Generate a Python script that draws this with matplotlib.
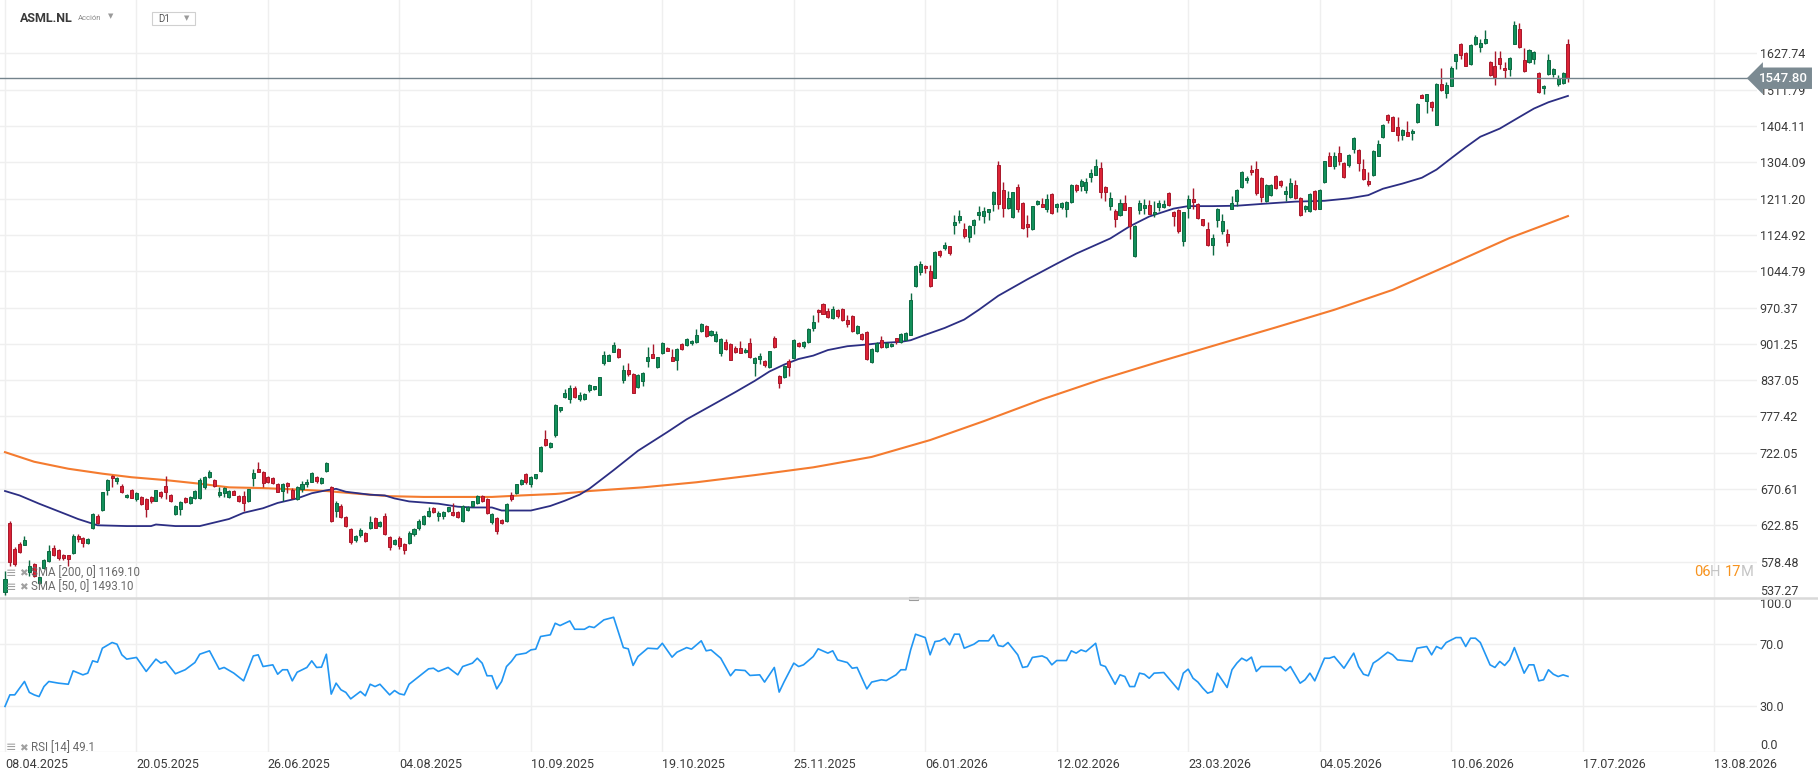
import numpy as np
import matplotlib
matplotlib.use("Agg")
import matplotlib.pyplot as plt
from matplotlib.patches import Rectangle
from matplotlib.lines import Line2D
from matplotlib.transforms import blended_transform_factory

plt.rcParams['font.family'] = ['Roboto', 'DejaVu Sans']

# ---- daily candles ASML.NL (bar index 0 = 08.04.2025) ----
opens = [544, 626, 594, 600, 599, 566, 576, 554, 571, 579, 595, 592, 587, 586, 589, 610, 607, 601, 619, 635,
         643, 669, 689, 682, 675, 660, 669, 657, 660, 657, 660, 655, 666, 675, 662, 638, 644, 659, 652, 658,
         658, 673, 687, 683, 663, 665, 660, 668, 661, 661, 654, 686, 699, 694, 687, 686, 677, 668, 679, 670,
         657, 671, 677, 681, 687, 679, 696, 673, 642, 648, 633, 618, 604, 611, 613, 620, 632, 622, 635, 608,
         600, 607, 600, 601, 612, 619, 624, 635, 645, 635, 635, 641, 640, 640, 628, 643, 648, 652, 661, 657,
         627, 632, 630, 628, 662, 665, 677, 691, 678, 686, 696, 743, 731, 748, 787, 809, 806, 824, 806, 806,
         820, 822, 813, 866, 871, 887, 892, 838, 854, 848, 825, 835, 870, 883, 860, 884, 893, 877, 873, 901,
         900, 902, 905, 925, 935, 917, 907, 885, 904, 901, 893, 893, 886, 903, 867, 874, 871, 860, 912, 844,
         842, 870, 876, 903, 898, 904, 931, 966, 978, 963, 950, 966, 968, 947, 954, 922, 919, 923, 869, 888,
         909, 895, 897, 912, 905, 909, 918, 1015, 1044, 1057, 1045, 1031, 1088, 1096, 1099, 1149, 1159, 1139, 1120, 1147,
         1172, 1169, 1179, 1197, 1297, 1233, 1189, 1167, 1241, 1201, 1151, 1139, 1198, 1198, 1187, 1223, 1192, 1192, 1187, 1202,
         1246, 1244, 1234, 1266, 1272, 1290, 1240, 1193, 1182, 1172, 1200, 1190, 1078, 1184, 1189, 1196, 1174, 1190, 1190, 1225,
         1179, 1184, 1112, 1188, 1210, 1198, 1161, 1139, 1103, 1159, 1135, 1127, 1187, 1206, 1240, 1257, 1284, 1287, 1264, 1206,
         1221, 1268, 1255, 1224, 1216, 1246, 1213, 1186, 1181, 1230, 1186, 1253, 1320, 1295, 1330, 1302, 1297, 1339, 1338, 1287,
         1256, 1270, 1322, 1373, 1437, 1430, 1402, 1380, 1388, 1384, 1415, 1496, 1479, 1474, 1408, 1530, 1503, 1525, 1602, 1661,
         1631, 1592, 1659, 1650, 1663, 1599, 1587, 1614, 1581, 1578, 1661, 1712, 1607, 1599, 1608, 1564, 1516, 1560, 1560, 1531,
         1532, 1659]
highs = [568, 629, 596, 602, 610, 580, 577, 562, 582, 598, 598, 594, 588, 587, 612, 612, 608, 607, 639, 638,
         667, 685, 690, 687, 677, 664, 671, 666, 661, 659, 661, 670, 668, 689, 664, 649, 654, 660, 661, 669,
         686, 689, 697, 685, 673, 673, 669, 669, 662, 668, 671, 699, 709, 696, 689, 688, 679, 679, 681, 672,
         675, 682, 684, 694, 689, 688, 708, 675, 654, 650, 635, 620, 611, 620, 615, 635, 634, 628, 639, 610,
         606, 609, 601, 616, 620, 631, 636, 647, 647, 642, 641, 647, 652, 641, 649, 648, 655, 662, 662, 658,
         639, 633, 631, 652, 666, 678, 685, 693, 689, 692, 732, 757, 738, 797, 793, 822, 829, 827, 817, 816,
         831, 828, 843, 889, 883, 905, 894, 864, 866, 850, 847, 851, 895, 901, 878, 904, 895, 892, 893, 903,
         912, 909, 929, 941, 937, 928, 926, 912, 910, 903, 898, 906, 893, 912, 878, 885, 873, 889, 915, 846,
         864, 874, 910, 905, 907, 931, 955, 968, 979, 969, 974, 968, 969, 955, 956, 936, 921, 925, 893, 904,
         916, 904, 902, 913, 921, 924, 1000, 1058, 1066, 1059, 1059, 1088, 1092, 1110, 1101, 1172, 1184, 1152, 1147, 1162,
         1194, 1190, 1187, 1231, 1308, 1254, 1231, 1229, 1249, 1203, 1172, 1194, 1207, 1212, 1223, 1225, 1200, 1202, 1206, 1248,
         1248, 1260, 1263, 1287, 1313, 1306, 1243, 1229, 1187, 1210, 1221, 1192, 1147, 1208, 1210, 1208, 1206, 1209, 1208, 1227,
         1181, 1186, 1180, 1221, 1238, 1200, 1163, 1155, 1127, 1188, 1175, 1139, 1219, 1235, 1282, 1268, 1297, 1308, 1266, 1248,
         1248, 1270, 1258, 1243, 1264, 1257, 1215, 1196, 1225, 1232, 1235, 1308, 1333, 1331, 1347, 1304, 1326, 1372, 1340, 1313,
         1278, 1338, 1364, 1409, 1439, 1432, 1430, 1396, 1420, 1396, 1471, 1499, 1500, 1477, 1532, 1581, 1535, 1588, 1627, 1664,
         1634, 1658, 1690, 1675, 1708, 1602, 1635, 1635, 1599, 1617, 1738, 1732, 1645, 1643, 1636, 1569, 1526, 1626, 1580, 1559,
         1569, 1675]
lows = [541, 574, 574, 589, 598, 562, 561, 553, 570, 578, 585, 581, 581, 574, 588, 602, 596, 600, 618, 624,
        642, 663, 673, 677, 665, 658, 658, 655, 649, 634, 652, 654, 659, 657, 653, 636, 636, 652, 651, 657,
        657, 671, 686, 674, 660, 660, 659, 662, 653, 642, 653, 675, 694, 673, 679, 677, 666, 655, 665, 657,
        656, 666, 673, 680, 679, 677, 695, 627, 633, 632, 621, 600, 602, 608, 602, 618, 619, 621, 611, 592,
        598, 594, 588, 600, 610, 617, 623, 634, 639, 629, 631, 640, 635, 632, 627, 642, 647, 651, 653, 637,
        625, 612, 624, 627, 654, 664, 676, 678, 674, 685, 695, 732, 729, 746, 784, 807, 799, 807, 802, 804,
        818, 821, 812, 864, 870, 886, 876, 833, 845, 815, 824, 827, 860, 875, 858, 883, 888, 870, 855, 890,
        898, 900, 903, 923, 914, 915, 904, 880, 890, 872, 885, 884, 884, 876, 845, 865, 860, 858, 894, 824,
        840, 844, 874, 896, 893, 903, 926, 943, 957, 950, 948, 951, 945, 933, 924, 920, 908, 873, 867, 886,
        894, 893, 895, 901, 903, 908, 917, 1012, 1037, 1041, 1011, 1030, 1075, 1092, 1081, 1127, 1153, 1119, 1110, 1127,
        1159, 1153, 1159, 1182, 1186, 1167, 1187, 1165, 1179, 1139, 1121, 1137, 1196, 1190, 1179, 1175, 1179, 1186, 1167, 1200,
        1227, 1231, 1225, 1254, 1270, 1214, 1206, 1184, 1144, 1170, 1183, 1116, 1076, 1175, 1175, 1173, 1167, 1182, 1188, 1194,
        1145, 1130, 1099, 1164, 1186, 1161, 1145, 1099, 1081, 1144, 1127, 1101, 1185, 1194, 1238, 1250, 1272, 1221, 1204, 1204,
        1219, 1236, 1241, 1206, 1214, 1210, 1169, 1180, 1179, 1183, 1185, 1251, 1294, 1287, 1297, 1263, 1291, 1330, 1281, 1258,
        1244, 1268, 1320, 1371, 1413, 1389, 1362, 1364, 1375, 1364, 1413, 1486, 1442, 1447, 1406, 1509, 1488, 1523, 1578, 1608,
        1586, 1590, 1656, 1633, 1660, 1556, 1528, 1578, 1549, 1556, 1658, 1645, 1568, 1597, 1594, 1502, 1499, 1558, 1551, 1525,
        1530, 1537]
closes = [559, 578, 576, 590, 605, 574, 562, 561, 580, 591, 587, 583, 583, 582, 609, 606, 601, 606, 637, 626,
          666, 683, 686, 686, 667, 663, 659, 665, 651, 644, 654, 669, 661, 666, 655, 648, 653, 653, 660, 668,
          683, 687, 694, 675, 667, 672, 668, 663, 654, 652, 671, 693, 695, 679, 681, 679, 667, 678, 675, 659,
          673, 678, 681, 693, 682, 686, 707, 629, 652, 633, 622, 602, 609, 617, 603, 627, 620, 627, 612, 596,
          605, 597, 592, 613, 618, 629, 635, 641, 640, 639, 640, 646, 636, 633, 648, 647, 654, 661, 654, 639,
          638, 616, 626, 651, 657, 677, 683, 680, 687, 691, 731, 733, 737, 796, 792, 816, 824, 809, 813, 814,
          829, 827, 842, 881, 881, 899, 877, 855, 848, 816, 846, 850, 877, 876, 877, 903, 889, 871, 892, 892,
          910, 907, 918, 938, 916, 926, 920, 910, 892, 873, 887, 885, 891, 877, 876, 880, 864, 888, 895, 833,
          862, 860, 908, 897, 905, 929, 943, 961, 958, 952, 968, 953, 947, 939, 925, 935, 910, 874, 892, 903,
          895, 902, 901, 906, 920, 922, 986, 1056, 1061, 1051, 1013, 1087, 1081, 1103, 1085, 1156, 1169, 1122, 1145, 1160,
          1180, 1182, 1185, 1227, 1197, 1189, 1212, 1227, 1185, 1141, 1143, 1193, 1206, 1192, 1210, 1177, 1198, 1200, 1204, 1246,
          1234, 1255, 1254, 1275, 1295, 1229, 1227, 1214, 1163, 1200, 1184, 1145, 1146, 1201, 1196, 1175, 1180, 1201, 1198, 1196,
          1169, 1133, 1179, 1210, 1204, 1165, 1147, 1103, 1117, 1186, 1157, 1110, 1201, 1233, 1280, 1264, 1278, 1226, 1216, 1246,
          1246, 1238, 1246, 1231, 1251, 1212, 1171, 1194, 1223, 1185, 1233, 1307, 1295, 1320, 1307, 1265, 1324, 1370, 1302, 1260,
          1249, 1336, 1354, 1407, 1422, 1391, 1380, 1394, 1377, 1391, 1469, 1488, 1498, 1460, 1530, 1511, 1527, 1581, 1625, 1624,
          1588, 1655, 1684, 1664, 1675, 1559, 1553, 1592, 1573, 1613, 1725, 1648, 1571, 1641, 1633, 1506, 1524, 1607, 1577, 1548,
          1565, 1547.80]

# moving averages (bar index, value)
sma50_idx = [0, 3, 7, 13, 15, 19, 25, 30, 31, 35, 40, 42, 46, 49, 53, 56, 60, 63, 66, 68, 70, 75, 78, 80, 83, 89,
             93, 96, 100, 102, 108, 112, 115, 118, 120, 125, 130, 136, 140, 146, 150, 154, 157, 160, 163, 166, 169,
             173, 177, 180, 184, 186, 189, 193, 197, 200, 204, 210, 216, 220, 227, 231, 235, 240, 243, 248, 253, 260,
             265, 271, 276, 280, 283, 287, 291, 294, 297, 300, 303, 307, 311, 314, 317, 321]
sma50_val = [668, 662, 651, 636, 631, 623, 622, 622, 624, 622, 622, 625, 631, 639, 645, 652, 658, 665, 669, 671, 667,
             663, 662, 658, 654, 651, 647, 646, 646, 642, 642, 648, 655, 663, 671, 697, 725, 753, 773, 799, 817, 836,
             852, 864, 874, 880, 890, 897, 900, 903, 905, 908, 918, 931, 947, 966, 994, 1028, 1061, 1083, 1117, 1145,
             1168, 1187, 1193, 1193, 1194, 1200, 1204, 1206, 1212, 1220, 1236, 1249, 1264, 1285, 1315, 1345, 1374,
             1397, 1430, 1455, 1474, 1493.10]
sma200_idx = [0, 6, 13, 20, 26, 33, 40, 46, 53, 60, 66, 73, 79, 86, 93, 100, 106, 113, 117, 120, 131, 142, 154, 166,
              178, 190, 201, 213, 225, 237, 249, 261, 273, 285, 297, 309, 321]
sma200_val = [723, 709, 699, 692, 687, 683, 678, 673, 672, 670, 668, 664, 661, 660, 660, 660, 662, 664, 666, 668,
              673, 680, 690, 701, 716, 741, 770, 805, 838, 869, 900, 932, 966, 1006, 1060, 1118, 1169.10]

# RSI(14)
rsi_idx = [0, 1, 2, 4, 5, 6, 7, 8, 9, 11, 13, 14, 16, 17, 18, 19, 20, 22, 23, 24, 25, 27, 29, 31, 32, 33, 35, 37, 39,
           40, 42, 44, 45, 47, 49, 51, 52, 53, 55, 56, 57, 58, 59, 60, 62, 63, 64, 65, 66, 67, 68, 69, 70, 71, 73, 74,
           75, 76, 77, 79, 80, 81, 82, 83, 85, 87, 88, 89, 91, 93, 94, 96, 97, 98, 99, 100, 101, 102, 103, 104, 105,
           107, 108, 109, 110, 112, 113, 114, 116, 117, 119, 120, 121, 123, 125, 127, 128, 129, 130, 132, 134, 135,
           137, 138, 140, 141, 143, 144, 145, 147, 149, 150, 152, 153, 155, 156, 158, 159, 160, 162, 163, 164, 166,
           167, 169, 170, 171, 173, 174, 175, 177, 178, 180, 181, 183, 184, 185, 186, 187, 189, 190, 191, 192, 193,
           194, 195, 196, 197, 199, 200, 202, 203, 204, 205, 206, 208, 209, 210, 211, 213, 214, 215, 216, 218, 219,
           220, 221, 222, 224, 225, 226, 228, 229, 230, 231, 232, 233, 234, 235, 236, 238, 241, 242, 243, 244, 245,
           246, 247, 248, 249, 251, 252, 253, 254, 255, 256, 257, 258, 260, 262, 263, 264, 266, 267, 268, 269, 271,
           272, 273, 275, 277, 278, 279, 280, 281, 282, 284, 285, 286, 288, 289, 290, 292, 293, 294, 295, 296, 298,
           299, 300, 301, 302, 303, 305, 306, 307, 308, 309, 310, 312, 313, 314, 315, 316, 317, 318, 319, 320, 321]
rsi_val = [29.6, 37.1, 37.1, 45.8, 38.7, 37.1, 36.0, 42.5, 45.8, 44.7, 44.0, 52.7, 50.1, 51.2, 59.2, 58.3, 67.4, 71.1,
           70.0, 63.1, 60.3, 61.4, 52.3, 60.3, 57.7, 58.8, 50.8, 53.4, 58.1, 63.5, 65.7, 53.8, 54.9, 51.2, 46.2, 62.4,
           63.1, 55.5, 56.6, 50.5, 53.4, 53.4, 46.2, 51.8, 54.9, 59.2, 54.9, 55.1, 63.5, 37.6, 44.7, 40.4, 38.7, 34.5,
           39.3, 36.5, 44.0, 42.5, 44.0, 37.1, 39.9, 37.8, 37.1, 44.0, 49.0, 54.0, 54.4, 52.3, 54.9, 50.1, 55.5, 57.7,
           60.9, 57.7, 49.5, 49.5, 41.0, 45.8, 55.5, 58.8, 63.1, 64.2, 66.3, 66.8, 75.0, 76.1, 83.6, 82.1, 85.1, 79.7,
           79.7, 81.5, 80.8, 85.8, 87.5, 67.8, 67.0, 56.2, 62.0, 67.4, 67.0, 70.6, 61.6, 64.8, 67.8, 66.8, 72.2, 65.7,
           66.3, 60.9, 49.5, 53.4, 52.9, 49.7, 50.1, 45.4, 54.9, 38.9, 45.5, 57.7, 55.5, 56.6, 62.0, 67.0, 64.2, 65.7,
           59.8, 58.1, 54.4, 54.9, 41.0, 45.4, 46.9, 46.4, 50.1, 53.4, 53.4, 66.3, 76.5, 74.3, 63.1, 71.7, 72.2, 73.9,
           69.6, 76.5, 76.5, 67.4, 70.0, 72.2, 72.2, 76.1, 69.1, 68.5, 71.1, 63.1, 54.9, 55.5, 61.4, 62.4, 60.9, 56.6,
           59.4, 59.4, 65.7, 64.2, 66.3, 65.2, 70.6, 56.6, 55.5, 44.0, 50.1, 49.0, 42.5, 42.5, 51.2, 50.5, 47.9, 51.2,
           51.6, 40.4, 51.2, 53.8, 47.9, 45.4, 41.5, 38.2, 39.3, 51.2, 41.9, 53.4, 57.7, 60.9, 59.2, 61.6, 52.3, 55.5,
           55.5, 55.5, 52.7, 55.5, 44.7, 46.9, 51.2, 46.2, 60.9, 60.9, 62.0, 54.4, 64.2, 55.5, 50.5, 49.5, 57.7, 59.8,
           64.8, 63.1, 59.8, 59.2, 58.8, 67.4, 68.5, 63.1, 68.5, 67.0, 71.1, 74.3, 74.3, 68.5, 73.9, 73.9, 71.1, 56.6,
           54.9, 58.8, 56.2, 59.8, 67.8, 51.2, 56.6, 56.6, 46.2, 46.9, 53.4, 50.5, 49.0, 50.1, 49.1]

price_ticks = [537.27, 578.48, 622.85, 670.61, 722.05, 777.42, 837.05, 901.25, 970.37, 1044.79,
               1124.92, 1211.20, 1304.09, 1404.11, 1511.79, 1627.74]
date_idx = [0, 27, 54, 81, 108, 135, 162, 189, 216, 243, 270, 297, 324, 351]
date_labels = ['08.04.2025', '20.05.2025', '26.06.2025', '04.08.2025', '10.09.2025', '19.10.2025',
               '25.11.2025', '06.01.2026', '12.02.2026', '23.03.2026', '04.05.2026', '10.06.2026',
               '17.07.2026', '13.08.2026']
last_price = 1547.80

W, H = 1818, 779
fig = plt.figure(figsize=(W / 100, H / 100), dpi=100)


def box(x0, y0, x1, y1):
    return [x0 / W, 1 - y1 / H, (x1 - x0) / W, (y1 - y0) / H]


bar_px = 4.869
ax = fig.add_axes(box(0, 0, 1757, 598))
ax2 = fig.add_axes(box(0, 598, 1757, 752), sharex=ax)
ax.set_xlim(-5 / bar_px, (1757 - 5) / bar_px)

grid_c = '#efefef'
txt_c = '#3a3a3a'
for a in (ax, ax2):
    for s in a.spines.values():
        s.set_visible(False)
    a.tick_params(length=0)
    a.set_xticks(date_idx)
    a.grid(True, color=grid_c, lw=1)
    a.set_axisbelow(True)

# ---- price panel ----
ax.set_yscale('log')
ax.set_ylim(537.27, 537.27 * np.exp(598 * 0.0020357))
ax.yaxis.set_minor_locator(matplotlib.ticker.NullLocator())
ax.set_yticks(price_ticks)
ax.set_yticklabels(['%.2f' % p for p in price_ticks])
ax.yaxis.tick_right()
ax.tick_params(axis='y', pad=2, labelsize=9, labelcolor=txt_c)
for lab in ax.get_yticklabels():
    lab.set_horizontalalignment('left')
ax.get_yticklabels()[0].set_verticalalignment('bottom')
ax.tick_params(axis='x', labelbottom=False)

x = np.arange(len(closes))
o = np.array(opens, float)
h = np.array(highs, float)
l = np.array(lows, float)
c = np.array(closes, float)
up = c >= o
fill = np.where(up, '#12905a', '#dc2336')
edge = np.where(up, '#0c6a42', '#a8172a')
lo_b = np.minimum(o, c)
hi_b = np.maximum(o, c)
ax.vlines(x, l, h, colors=edge, lw=1, zorder=3)
ax.bar(x, hi_b - lo_b, bottom=lo_b, width=0.62, color=fill, edgecolor=edge, linewidth=0.7, zorder=4)

ax.plot(sma200_idx, sma200_val, color='#f47b2f', lw=1.5, zorder=2)
ax.plot(sma50_idx, sma50_val, color='#2c2e83', lw=1.3, zorder=2)

ax.axhline(last_price, color='#74838c', lw=1.0, zorder=5)
tr = blended_transform_factory(ax.transAxes, ax.transData)
ax.text(1.001, last_price, '%.2f' % last_price, transform=tr, ha='left', va='center', color='white',
        fontsize=9.5, fontweight='medium', clip_on=False, zorder=6,
        bbox=dict(boxstyle='larrow,pad=0.32', fc='#7b8a92', ec='none'))

# ---- RSI panel ----
ax2.set_ylim(0, 100)
ax2.set_yticks([0, 30, 70, 100])
ax2.set_yticklabels(['0.0', '30.0', '70.0', '100.0'])
ax2.yaxis.tick_right()
ax2.tick_params(axis='y', pad=2, labelsize=9, labelcolor=txt_c)
for lab in ax2.get_yticklabels():
    lab.set_horizontalalignment('left')
ax2.get_yticklabels()[0].set_verticalalignment('bottom')
ax2.get_yticklabels()[3].set_verticalalignment('top')
ax2.set_xticklabels(date_labels)
ax2.tick_params(axis='x', pad=4, labelsize=9, labelcolor=txt_c)
for lab in ax2.get_xticklabels():
    lab.set_horizontalalignment('left')
ax2.plot(rsi_idx, rsi_val, color='#2196f3', lw=1.2)

# separator between panels
fig.add_artist(Line2D([0, 1], [1 - 598 / H] * 2, transform=fig.transFigure, color='#d9d9d9', lw=1.8))
fig.add_artist(Rectangle((909 / W, 1 - 600 / H), 9 / W, 3 / H, transform=fig.transFigure,
                         fc='white', ec='#9a9a9a', lw=0.8))

# ---- header ----
fig.text(20 / W, 1 - 18 / H, 'ASML.NL', fontsize=9, fontweight='bold', color='#3a3a3a', va='center')
fig.text(78 / W, 1 - 18 / H, 'Acción', fontsize=5.5, color='#8a8a8a', va='center')
fig.text(108 / W, 1 - 17 / H, '▼', fontsize=5, color='#9a9a9a', va='center')
fig.add_artist(Rectangle((152 / W, 1 - 25 / H), 43 / W, 12.5 / H, transform=fig.transFigure,
                         fill=False, ec='#d0d0d0', lw=0.8))
fig.text(158 / W, 1 - 19 / H, 'D1', fontsize=7, color='#555555', va='center')
fig.text(184 / W, 1 - 19 / H, '▼', fontsize=5, color='#9a9a9a', va='center')

# ---- indicator legends ----
leg_c = '#6a6a6a'
for yy, s in [(573, 'SMA [200, 0] 1169.10'), (587, 'SMA [50, 0] 1493.10'), (748, 'RSI [14] 49.1')]:
    fig.text(6 / W, 1 - yy / H, '≡', fontsize=9, color='#a0a0a0', va='center')
    fig.text(19 / W, 1 - yy / H, '✖', fontsize=7.5, color='#a0a0a0', va='center')
    fig.text(31 / W, 1 - yy / H, s, fontsize=8.3, color=leg_c, va='center')

# countdown to candle close
fig.canvas.draw()
r = fig.canvas.get_renderer()
xp = 1694
for s, col in [('06', '#f7931e'), ('H ', '#c4c4c4'), ('17', '#f7931e'), ('M', '#c4c4c4')]:
    t = fig.text(xp / W, 1 - 572 / H, s, fontsize=10.5, color=col, va='center')
    xp += t.get_window_extent(r).width

fig.savefig('out.png', dpi=100, facecolor='white')
